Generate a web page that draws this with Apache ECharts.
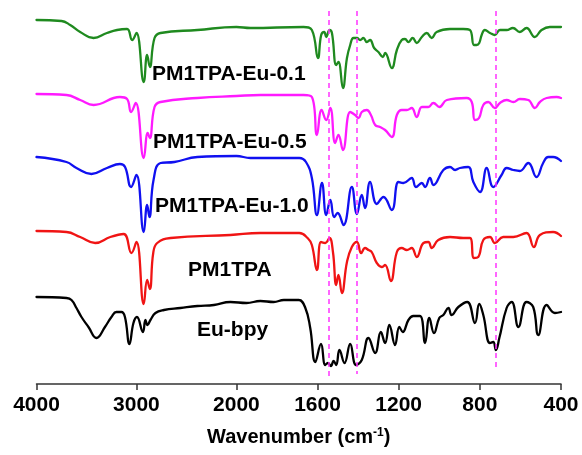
<!DOCTYPE html>
<html>
<head>
<meta charset="utf-8">
<script src="https://cdn.jsdelivr.net/npm/echarts@6/dist/echarts.min.js"></script>
<style>
  html, body { margin: 0; padding: 0; background: #fff; }
  #chart { width: 582px; height: 455px; }
</style>
</head>
<body>
<div id="chart"></div>
<script>
// axis ticks (cm-1), the axis is stretched x2 below 2000
const wnTicks = [4000, 3000, 2000, 1600, 1200, 800, 400];
const lowScale = 2.03;

// dashed guide lines
const markerWn = [1545, 1406, 722];
const markerTop = 373;
const markerBottom = [5, 10, 17];

const labels = ['PM1TPA-Eu-0.1', 'PM1TPA-Eu-0.5', 'PM1TPA-Eu-1.0', 'PM1TPA', 'Eu-bpy'];
const colors = ['#1f8a1f', '#ff1aff', '#1010f0', '#f01414', '#000000'];

// [wavenumber, transmittance (a.u., offset stacked)]
const eu01 = [
  [4000,364],[3750,363],[3663,359],[3563,352],[3429,346],[3295,351],[3194,354],[3094,355],
  [3043,344],[3000,351],[2927,302],[2893,329],[2866,317],[2819,346],[2759,351],[2390,354],
  [2000,357],[1931,356],[1669,357],[1628,354],[1598,326],[1582,349],[1567,352],[1557,347],
  [1541,354],[1529,351],[1508,319],[1497,322],[1475,296],[1455,326],[1439,339],[1423,346],
  [1406,346],[1390,344],[1374,346],[1357,342],[1341,344],[1321,336],[1300,332],[1278,327],
  [1267,331],[1234,316],[1209,334],[1185,344],[1169,345],[1152,342],[1131,346],[1111,341],
  [1086,347],[1062,351],[1037,346],[1013,352],[947,355],[882,355],[849,354],[829,339],
  [816,339],[803,341],[791,349],[775,354],[750,351],[726,349],[701,354],[668,354],
  [637,356],[603,352],[570,356],[529,347],[496,354],[455,357],[422,357],[400,357]
];
const eu05 = [
  [4000,290],[3700,289],[3563,284],[3429,279],[3165,287],[3094,285],[3054,272],[3007,281],
  [2927,226],[2887,251],[2866,246],[2819,277],[2759,282],[2390,286],[2000,288],[1882,289],
  [1669,289],[1628,287],[1603,249],[1580,274],[1557,264],[1537,276],[1513,241],[1497,249],
  [1475,234],[1439,272],[1415,269],[1398,266],[1382,272],[1357,274],[1337,269],[1316,259],
  [1292,257],[1267,254],[1234,247],[1209,269],[1185,274],[1160,274],[1136,276],[1111,267],
  [1086,277],[1054,277],[1029,281],[999,277],[963,284],[865,286],[840,282],[824,264],
  [804,266],[783,279],[758,282],[726,276],[701,281],[668,284],[635,282],[603,285],
  [561,284],[529,276],[504,282],[471,286],[422,287],[400,286]
];
const eu10 = [
  [4000,227],[3700,222],[3600,216],[3450,210],[3295,216],[3165,220],[3114,217],[3054,197],
  [3000,209],[2927,152],[2893,179],[2870,167],[2829,204],[2759,221],[2620,222],[2390,227],
  [2000,228],[1931,226],[1690,226],[1657,222],[1628,206],[1603,169],[1578,201],[1557,169],
  [1537,184],[1518,167],[1501,171],[1472,159],[1431,197],[1406,170],[1382,189],[1366,176],
  [1341,202],[1308,180],[1275,187],[1234,174],[1201,202],[1177,201],[1136,206],[1115,197],
  [1086,201],[1070,197],[1046,206],[1029,199],[980,214],[947,217],[922,214],[898,216],
  [857,217],[832,202],[799,192],[766,216],[734,197],[693,209],[668,216],[635,214],
  [603,213],[561,221],[521,207],[488,221],[463,227],[439,227],[400,223]
];
const pm1tpa = [
  [4000,153],[3700,152],[3563,147],[3413,141],[3262,147],[3128,150],[3050,131],[3000,142],
  [2927,80],[2893,104],[2866,95],[2832,131],[2792,141],[2658,146],[2060,149],[1882,151],
  [1690,151],[1649,146],[1628,139],[1603,114],[1583,142],[1562,141],[1541,146],[1524,132],
  [1508,99],[1497,109],[1480,91],[1455,122],[1431,137],[1406,142],[1385,131],[1366,136],
  [1349,134],[1333,132],[1308,121],[1284,117],[1267,119],[1239,103],[1209,132],[1185,136],
  [1160,134],[1136,136],[1111,127],[1078,141],[1054,142],[1037,136],[1005,144],[947,147],
  [882,146],[849,146],[829,126],[808,127],[783,144],[750,147],[726,141],[685,147],
  [635,147],[570,151],[534,137],[504,149],[439,152],[400,148]
];
const eubpy = [
  [4000,87],[3700,86],[3650,84],[3600,76],[3550,67],[3480,57],[3400,46],[3315,57],
  [3250,67],[3200,72],[3150,72],[3115,67],[3070,40],[3030,61],[2995,67],[2935,52],
  [2910,64],[2890,59],[2860,64],[2810,71],[2725,74],[2560,76],[2390,78],[2225,79],
  [2060,82],[1950,81],[1882,83],[1816,82],[1766,84],[1693,84],[1660,76],[1636,56],
  [1611,22],[1583,40],[1562,19],[1549,21],[1534,18],[1521,23],[1508,19],[1492,34],
  [1467,21],[1439,40],[1410,19],[1382,24],[1349,46],[1316,31],[1288,52],[1267,41],
  [1246,59],[1218,39],[1197,57],[1180,52],[1152,64],[1128,68],[1095,68],[1070,41],
  [1049,66],[1026,51],[1000,66],[980,69],[955,76],[939,69],[906,77],[862,82],
  [824,61],[803,80],[783,69],[750,41],[734,42],[721,34],[704,46],[668,76],
  [643,82],[610,57],[570,82],[537,77],[512,49],[471,79],[430,71],[400,72]
];
const spectra = [eu01, eu05, eu10, pm1tpa, eubpy];

function axisPos(w) {
  return w >= 2000 ? 4000 - w : 2000 + (2000 - w) * lowScale;
}

const labelFont = { fontFamily: 'Liberation Sans', fontWeight: 'bold', fontSize: 21, color: '#000' };
// label anchor: left x, vertical centre
const labelAt = [[152, 74], [153, 142], [155, 206], [188, 270], [197, 330]];

const chart = echarts.init(document.getElementById('chart'), null, { renderer: 'canvas' });

const series = spectra.map((d, i) => ({
  name: labels[i],
  type: 'line',
  data: d.map(p => [axisPos(p[0]), p[1]]),
  showSymbol: false,
  smooth: 0.45,
  lineStyle: { color: colors[i], width: 2.3, join: 'round', cap: 'round' },
  z: 3,
  animation: false
}));

series.push({
  type: 'line',
  data: [],
  silent: true,
  z: 2,
  markLine: {
    symbol: 'none',
    silent: true,
    label: { show: false },
    lineStyle: { color: '#ff33ff', type: [5, 4], width: 1.5 },
    data: markerWn.map((w, i) => [
      { coord: [axisPos(w), markerTop] },
      { coord: [axisPos(w), markerBottom[i]] }
    ])
  },
  animation: false
});

const tickPos = wnTicks.map(axisPos);

chart.setOption({
  backgroundColor: '#fff',
  animation: false,
  grid: { left: 36.5, right: 21, top: 0, bottom: 71 },
  xAxis: {
    type: 'value',
    min: 0,
    max: axisPos(400),
    splitLine: { show: false },
    axisLine: { lineStyle: { color: '#333', width: 1.5 } },
    axisTick: { customValues: tickPos, length: 6, lineStyle: { color: '#333', width: 1.5 } },
    axisLabel: {
      customValues: tickPos,
      margin: 11,
      ...labelFont,
      formatter: v => {
        const i = tickPos.findIndex(p => Math.abs(p - v) < 1e-6);
        return i >= 0 ? String(wnTicks[i]) : '';
      }
    },
    name: '{a|Wavenumber (cm}{s|-1}{a|)}',
    nameLocation: 'middle',
    nameGap: 43,
    nameTextStyle: {
      rich: {
        a: { ...labelFont, fontSize: 20 },
        s: { ...labelFont, fontSize: 12, verticalAlign: 'top', padding: [0, 0, 8, 0] }
      }
    }
  },
  yAxis: { type: 'value', min: 0, max: 384, show: false },
  graphic: labels.map((t, i) => ({
    type: 'text',
    x: labelAt[i][0],
    y: labelAt[i][1],
    z: 10,
    style: {
      text: t,
      font: 'bold 21px "Liberation Sans"',
      fill: '#000',
      verticalAlign: 'middle'
    }
  })),
  series: series
});
</script>
</body>
</html>
